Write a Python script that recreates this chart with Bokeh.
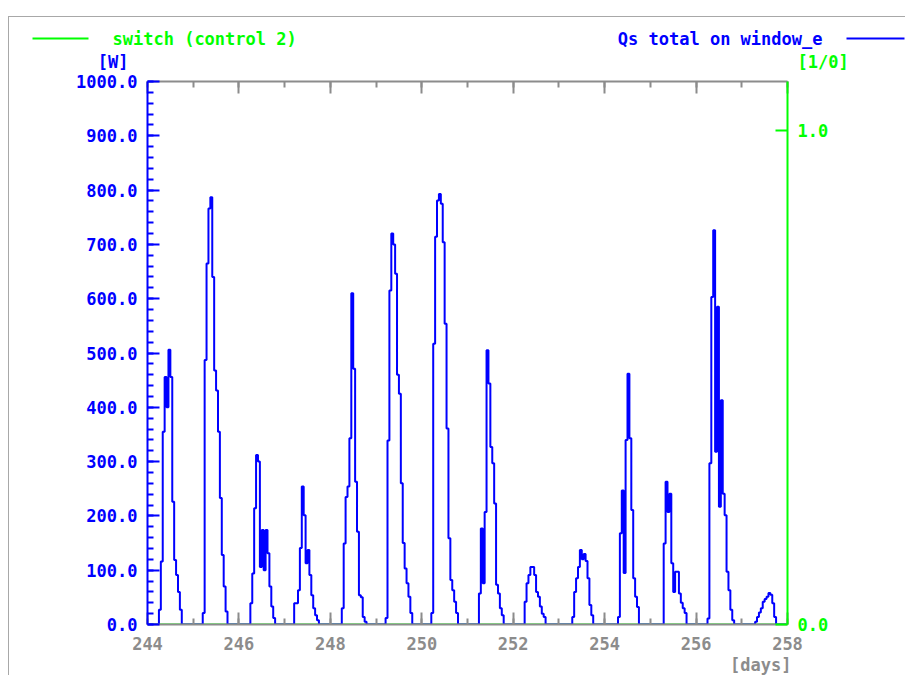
from bokeh.plotting import figure
from bokeh.layouts import column
from bokeh.models import (Range1d, LinearAxis, SingleIntervalTicker, FixedTicker,
                          PrintfTickFormatter, CustomJSTickFormatter, Label, Title)
from bokeh.embed import file_html
from bokeh.resources import INLINE

# ---- data: hourly solar gain on window_e [W], days 244..257 (24 values per day)
day244 = [0,0,0,0,0,0,27,116,355,456,400,506,456,226,119,91,60,27,0,0,0,0,0,0]
day245 = [0,0,0,0,0,21,487,665,766,787,640,468,431,355,233,128,70,24,0,0,0,0,0,0]
day246 = [0,0,0,0,0,0,39,94,214,312,300,106,174,100,174,131,70,33,12,0,0,0,0,0]
day247 = [0,0,0,0,0,39,39,63,141,254,201,113,137,91,54,30,17,8,0,0,0,0,0,0]
day248 = [0,0,0,0,0,0,30,149,235,254,343,610,471,263,171,54,50,14,5,0,0,0,0,0]
day249 = [0,0,0,0,0,12,339,615,720,700,646,460,425,260,150,103,76,51,21,0,0,0,0,0]
day250 = [0,0,0,0,0,21,517,714,781,793,775,704,554,361,159,82,63,42,21,0,0,0,0,0]
day251 = [0,0,0,0,0,0,57,177,76,207,505,444,327,297,223,73,57,30,17,0,0,0,0,0]
day252 = [0,0,0,0,0,0,42,76,91,106,106,91,60,51,33,20,14,0,0,0,0,0,0,0]
day253 = [0,0,0,0,0,0,0,14,60,85,106,137,120,130,117,85,36,17,0,0,0,0,0,0]
day254 = [0,0,0,0,0,0,0,14,168,247,95,340,462,343,211,85,51,32,0,0,0,0,0,0]
day255 = [0,0,0,0,0,0,0,149,263,207,241,113,60,97,97,57,40,30,21,0,0,0,0,0]
day256 = [0,0,0,0,0,0,11,297,603,726,318,585,217,413,241,201,97,63,27,8,0,0,0,0]
day257 = [0,0,0,0,0,0,0,5,14,22,30,42,47,51,58,55,39,14,0,0,0,0,0,0]
days = [244, 245, 246, 247, 248, 249, 250, 251, 252, 253, 254, 255, 256, 257]
qs_by_day = [day244, day245, day246, day247, day248, day249, day250,
             day251, day252, day253, day254, day255, day256, day257]

switch_days = [244, 258]
switch_values = [0, 0]

series_names = ["switch (control 2)", "Qs total on window_e"]
unit_labels = ["[W]", "[1/0]", "[days]"]

qs_t, qs_v = [], []
for d, vals in zip(days, qs_by_day):
    for h, v in enumerate(vals):
        qs_t.append(d + h / 24.0)
        qs_v.append(v)
qs_t.append(258.0)
qs_v.append(0)

BLUE = "#0000ff"
GREEN = "#00ff00"
GRAY = "#8c8c8c"
FONT = "DejaVu Sans Mono"
FS = "17px"

# ---------------- header strip (legend + unit labels), page-pixel coordinates
hdr = figure(width=896, height=54, x_range=Range1d(9, 905), y_range=Range1d(71, 17),
             output_backend="svg", toolbar_location=None,
             x_axis_location=None, y_axis_location=None,
             min_border_left=0, min_border_right=0, min_border_top=0, min_border_bottom=0)
hdr.grid.visible = False
hdr.outline_line_color = None
hdr.background_fill_color = "white"
hdr.border_fill_color = "white"

hdr.line(x=[32, 88], y=[38, 38], line_color=GREEN, line_width=2)
hdr.line(x=[846, 904], y=[38, 38], line_color=BLUE, line_width=2)


def add_text(fig, x, y, text, color, align):
    fig.add_layout(Label(x=x, y=y, text=text, text_align=align, text_baseline="middle",
                         text_color=color, text_font=FONT, text_font_size=FS,
                         text_font_style="bold"))


add_text(hdr, 112, 38, series_names[0], GREEN, "left")
add_text(hdr, 822, 38, series_names[1], BLUE, "right")
add_text(hdr, 128, 61, unit_labels[0], BLUE, "right")
add_text(hdr, 797, 61, unit_labels[1], GREEN, "left")

# ---------------- main chart
p = figure(width=896, height=604, x_range=Range1d(244, 258), y_range=Range1d(0, 1000),
           output_backend="svg", toolbar_location=None,
           x_axis_location=None, y_axis_location=None,
           min_border_left=138, min_border_right=118, min_border_top=10, min_border_bottom=51)
p.grid.visible = False
p.outline_line_color = None
p.background_fill_color = "white"
p.border_fill_color = "white"
p.extra_y_ranges = {"switch": Range1d(0, 1.1)}

for fig in (hdr, p):
    try:
        fig.frame_align = False
    except Exception:
        pass


def style_axis(ax, color):
    ax.axis_line_color = color
    ax.axis_line_width = 2
    ax.major_tick_line_color = color
    ax.major_tick_line_width = 2
    ax.major_tick_in = 12
    ax.major_tick_out = 0
    ax.minor_tick_line_color = color
    ax.minor_tick_line_width = 2
    ax.minor_tick_in = 6
    ax.minor_tick_out = 0
    ax.major_label_text_color = color
    ax.major_label_text_font = FONT
    ax.major_label_text_font_size = FS
    ax.major_label_text_font_style = "bold"
    ax.major_label_standoff = 10


yax = LinearAxis(ticker=SingleIntervalTicker(interval=100, num_minor_ticks=5),
                 formatter=PrintfTickFormatter(format="%.1f"))
style_axis(yax, BLUE)
p.add_layout(yax, "left")

xax = LinearAxis(ticker=SingleIntervalTicker(interval=2, num_minor_ticks=2),
                 formatter=PrintfTickFormatter(format="%d"))
style_axis(xax, GRAY)
xax.major_label_standoff = 12
p.add_layout(xax, "below")

tax = LinearAxis(ticker=SingleIntervalTicker(interval=2, num_minor_ticks=2),
                 formatter=CustomJSTickFormatter(code="return ''"))
style_axis(tax, GRAY)
tax.major_label_text_font_size = "0px"
tax.major_label_standoff = 0
p.add_layout(tax, "above")

rax = LinearAxis(y_range_name="switch", ticker=FixedTicker(ticks=[0, 1]),
                 formatter=PrintfTickFormatter(format="%.1f"))
style_axis(rax, GREEN)
p.add_layout(rax, "right")

p.add_layout(Title(text=unit_labels[2], align="right", offset=-4, standoff=0,
                   text_color=GRAY, text_font=FONT, text_font_size=FS,
                   text_font_style="bold"), "below")

p.line(x=switch_days, y=switch_values, y_range_name="switch", line_color=GREEN, line_width=2)
p.step(x=qs_t, y=qs_v, mode="after", line_color=BLUE, line_width=2)

page = column(hdr, p, spacing=0,
              styles={"margin-top": "16px", "margin-left": "8px",
                      "border-top": "1px solid #a8a8a8", "border-left": "1px solid #a8a8a8"})

open("out.html", "w").write(file_html(page, INLINE))
